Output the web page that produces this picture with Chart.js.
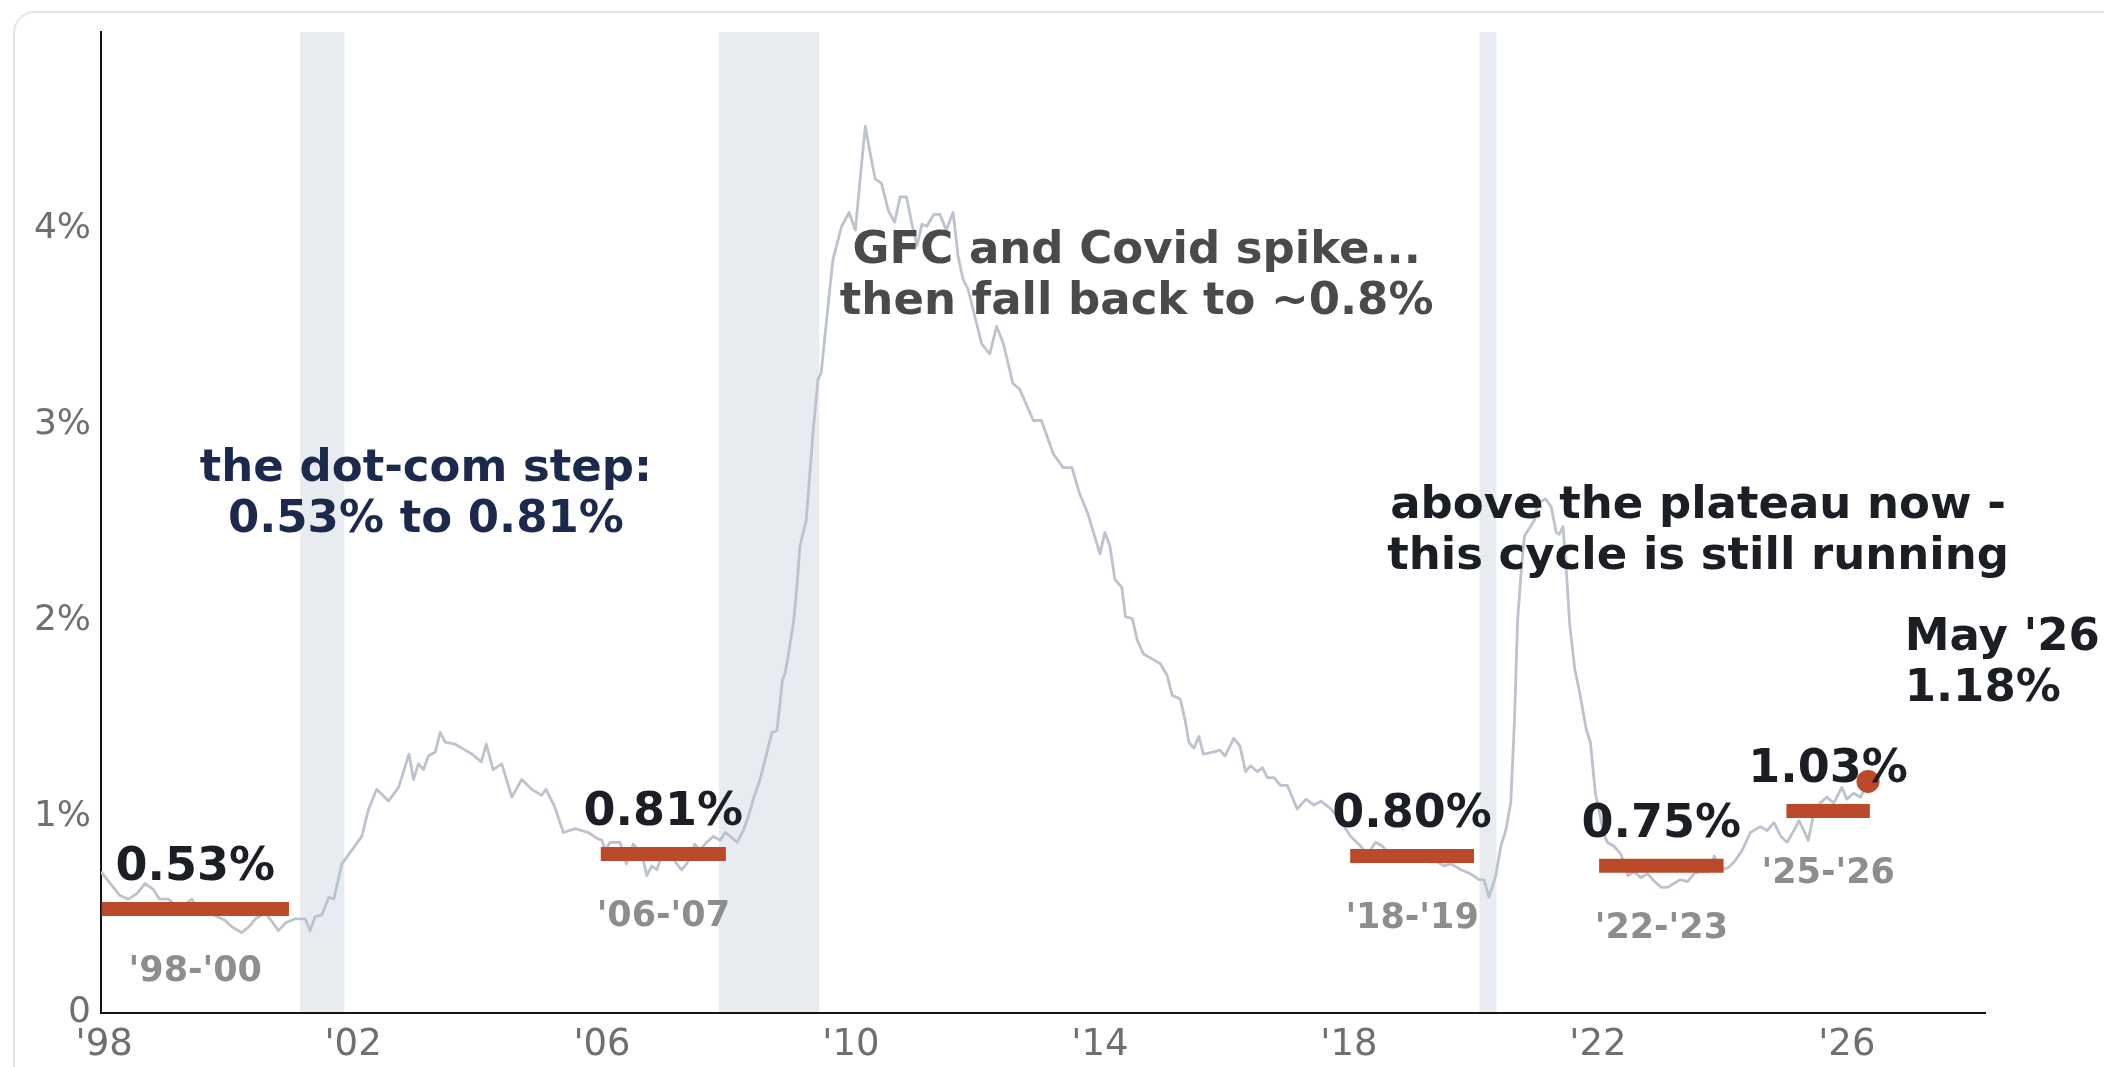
<!DOCTYPE html>
<html>
<head>
<meta charset="utf-8">
<title>Delinquency plateaus by cycle</title>
<script src="https://cdn.jsdelivr.net/npm/chart.js@4/dist/chart.umd.min.js"></script>
<style>
  html, body { margin: 0; padding: 0; background: #ffffff; }
  body { width: 2104px; height: 1067px; position: relative; overflow: hidden; }
  .card {
    position: absolute; left: 13px; top: 11px; width: 2200px; height: 1200px;
    border: 2px solid #e2e5e9; border-radius: 22px; background: #ffffff;
  }
  #chart { position: absolute; left: 0; top: 0; }
</style>
</head>
<body>
<div class="card"></div>
<canvas id="chart" width="2104" height="1067"></canvas>
<script>
// Monthly-ish series, positions in decimal years
const lineYears = [
  1997.95, 1998.10, 1998.25, 1998.39, 1998.53, 1998.66, 1998.79, 1998.89, 1999.03, 1999.19,
  1999.32, 1999.41, 1999.52, 1999.69, 1999.83, 1999.95, 2000.05, 2000.21, 2000.33, 2000.43,
  2000.59, 2000.71, 2000.80, 2000.92, 2001.07, 2001.23, 2001.31, 2001.39, 2001.50, 2001.61,
  2001.69, 2001.82, 2001.98, 2002.14, 2002.25, 2002.38, 2002.57, 2002.73, 2002.90, 2002.97,
  2003.05, 2003.13, 2003.21, 2003.32, 2003.40, 2003.48, 2003.64, 2003.80, 2003.91, 2004.06,
  2004.14, 2004.25, 2004.39, 2004.55, 2004.71, 2004.87, 2005.03, 2005.10, 2005.24, 2005.38,
  2005.57, 2005.78, 2005.92, 2006.00, 2006.05, 2006.13, 2006.29, 2006.39, 2006.50, 2006.64,
  2006.72, 2006.80, 2006.88, 2006.96, 2007.10, 2007.20, 2007.28, 2007.36, 2007.49, 2007.57,
  2007.68, 2007.79, 2007.90, 2007.98, 2008.06, 2008.17, 2008.27, 2008.35, 2008.43, 2008.54,
  2008.62, 2008.73, 2008.81, 2008.86, 2008.90, 2008.94, 2008.99, 2009.08, 2009.13, 2009.18,
  2009.24, 2009.28, 2009.39, 2009.47, 2009.52, 2009.63, 2009.71, 2009.85, 2009.97, 2010.07,
  2010.15, 2010.23, 2010.31, 2010.39, 2010.49, 2010.60, 2010.70, 2010.79, 2010.89, 2010.98,
  2011.06, 2011.14, 2011.22, 2011.33, 2011.43, 2011.53, 2011.64, 2011.72, 2011.80, 2011.88,
  2011.99, 2012.10, 2012.23, 2012.34, 2012.45, 2012.60, 2012.71, 2012.93, 2013.06, 2013.25,
  2013.41, 2013.55, 2013.67, 2013.80, 2014.00, 2014.08, 2014.16, 2014.24, 2014.35, 2014.41,
  2014.52, 2014.60, 2014.70, 2014.81, 2014.97, 2015.08, 2015.16, 2015.29, 2015.37, 2015.43,
  2015.51, 2015.59, 2015.66, 2015.82, 2015.93, 2016.01, 2016.15, 2016.25, 2016.34, 2016.42,
  2016.53, 2016.61, 2016.69, 2016.80, 2016.90, 2017.01, 2017.09, 2017.17, 2017.31, 2017.44,
  2017.55, 2017.71, 2017.86, 2018.03, 2018.19, 2018.30, 2018.43, 2018.54, 2018.67, 2018.84,
  2018.99, 2019.15, 2019.31, 2019.42, 2019.53, 2019.64, 2019.80, 2019.95, 2020.09, 2020.17,
  2020.25, 2020.36, 2020.44, 2020.52, 2020.60, 2020.66, 2020.71, 2020.77, 2020.82, 2020.88,
  2020.98, 2021.03, 2021.16, 2021.25, 2021.33, 2021.38, 2021.44, 2021.50, 2021.55, 2021.63,
  2021.71, 2021.81, 2021.88, 2021.96, 2022.09, 2022.15, 2022.26, 2022.37, 2022.48, 2022.58,
  2022.69, 2022.80, 2022.91, 2023.02, 2023.12, 2023.22, 2023.33, 2023.44, 2023.55, 2023.65,
  2023.79, 2023.87, 2023.98, 2024.09, 2024.19, 2024.32, 2024.45, 2024.61, 2024.72, 2024.83,
  2024.94, 2025.04, 2025.15, 2025.23, 2025.31, 2025.38, 2025.47, 2025.57, 2025.68, 2025.79,
  2025.92, 2026.00, 2026.11, 2026.22, 2026.34
];
const lineValues = [
  0.72, 0.66, 0.60, 0.58, 0.61, 0.66, 0.63, 0.58, 0.58, 0.54,
  0.56, 0.58, 0.53, 0.51, 0.49, 0.47, 0.44, 0.41, 0.44, 0.48,
  0.51, 0.46, 0.42, 0.46, 0.48, 0.48, 0.42, 0.49, 0.50, 0.59,
  0.58, 0.76, 0.83, 0.90, 1.04, 1.14, 1.08, 1.15, 1.32, 1.19,
  1.27, 1.24, 1.31, 1.33, 1.43, 1.38, 1.37, 1.34, 1.32, 1.28,
  1.37, 1.24, 1.27, 1.10, 1.19, 1.14, 1.11, 1.14, 1.05, 0.92,
  0.94, 0.92, 0.89, 0.88, 0.83, 0.87, 0.87, 0.76, 0.86, 0.81,
  0.70, 0.75, 0.73, 0.80, 0.81, 0.76, 0.73, 0.76, 0.86, 0.83,
  0.87, 0.90, 0.88, 0.92, 0.90, 0.87, 0.93, 1.00, 1.09, 1.19,
  1.29, 1.43, 1.44, 1.58, 1.70, 1.73, 1.82, 2.00, 2.17, 2.38,
  2.46, 2.51, 2.96, 3.23, 3.26, 3.60, 3.84, 4.01, 4.08, 3.99,
  4.26, 4.52, 4.38, 4.25, 4.23, 4.09, 4.03, 4.16, 4.16, 4.02,
  3.91, 4.02, 4.01, 4.07, 4.07, 3.99, 4.08, 3.86, 3.74, 3.69,
  3.55, 3.41, 3.36, 3.50, 3.41, 3.21, 3.18, 3.02, 3.02, 2.85,
  2.78, 2.78, 2.65, 2.55, 2.34, 2.45, 2.38, 2.21, 2.17, 2.02,
  2.01, 1.90, 1.83, 1.81, 1.78, 1.72, 1.62, 1.60, 1.49, 1.38,
  1.35, 1.41, 1.32, 1.33, 1.34, 1.31, 1.40, 1.36, 1.23, 1.26,
  1.23, 1.25, 1.20, 1.20, 1.16, 1.16, 1.10, 1.04, 1.09, 1.06,
  1.08, 1.04, 0.98, 0.90, 0.85, 0.81, 0.87, 0.85, 0.80, 0.78,
  0.79, 0.78, 0.77, 0.77, 0.75, 0.76, 0.73, 0.71, 0.68, 0.68,
  0.59, 0.70, 0.85, 0.93, 1.07, 1.49, 2.00, 2.26, 2.43, 2.46,
  2.51, 2.60, 2.62, 2.58, 2.45, 2.44, 2.48, 2.22, 1.97, 1.75,
  1.63, 1.45, 1.38, 1.12, 0.92, 0.87, 0.85, 0.81, 0.70, 0.72,
  0.69, 0.71, 0.67, 0.64, 0.64, 0.66, 0.68, 0.67, 0.71, 0.72,
  0.72, 0.80, 0.73, 0.74, 0.77, 0.83, 0.92, 0.95, 0.93, 0.97,
  0.90, 0.87, 0.93, 0.98, 0.93, 0.88, 1.02, 1.07, 1.10, 1.07,
  1.15, 1.09, 1.12, 1.10, 1.18
];

// Plateau periods and their average rate
const periodLabels = ["'98-'00", "'06-'07", "'18-'19", "'22-'23", "'25-'26"];
const periodStart  = [1997.96, 2005.98, 2018.02, 2022.02, 2025.03];
const periodEnd    = [2000.97, 2007.99, 2020.01, 2024.02, 2026.37];
const periodAvg    = [0.53, 0.81, 0.80, 0.75, 1.03];

// Recession bands
const recessionStart = [2001.15, 2007.88, 2020.10];
const recessionEnd   = [2001.86, 2009.49, 2020.37];

// Latest reading
const latestLabel = "May '26";
const latestX = 2026.34;
const latestValue = 1.18;

// Axis ticks
const xTickValues = [1998, 2002, 2006, 2010, 2014, 2018, 2022, 2026];
const yTickValues = [0, 1, 2, 3, 4];

// Annotation texts with their anchor point (x in years, y in % for first baseline)
const notes = [
  { lines: ['the dot-com step:', '0.53% to 0.81%'], x: 2003.17, y: 2.711, align: 'center', color: '#1b2a4c' },
  { lines: ['GFC and Covid spike...', 'then fall back to ~0.8%'], x: 2014.59, y: 3.823, align: 'center', color: '#4a4a4a' },
  { lines: ['above the plateau now -', 'this cycle is still running'], x: 2023.61, y: 2.523, align: 'center', color: '#1b1e25' },
  { lines: [latestLabel, latestValue.toFixed(2) + '%'], x: 2026.93, y: 1.850, align: 'left', color: '#1b1e25' }
];

const FONT = '"DejaVu Sans", "Liberation Sans", sans-serif';
const ORANGE = '#bb4a2b';
const LINE_GRAY = '#bcc3ce';
const BAND_FILL = '#e8ebef';

const overlay = {
  id: 'overlay',
  beforeDraw(chart) {
    const { ctx, chartArea: a, scales: { x } } = chart;
    ctx.save();
    ctx.fillStyle = BAND_FILL;
    recessionStart.forEach((s, i) => {
      const x0 = x.getPixelForValue(s);
      const x1 = x.getPixelForValue(recessionEnd[i]);
      ctx.fillRect(x0, a.top, x1 - x0, a.bottom - a.top);
    });
    ctx.restore();
  },
  afterDatasetsDraw(chart) {
    const { ctx, scales: { x, y } } = chart;
    ctx.save();
    ctx.textBaseline = 'alphabetic';

    // value above, period below each plateau bar
    periodAvg.forEach((v, i) => {
      const cx = x.getPixelForValue((periodStart[i] + periodEnd[i]) / 2);
      const py = y.getPixelForValue(v);
      ctx.textAlign = 'center';
      ctx.font = 'bold 46px ' + FONT;
      ctx.fillStyle = '#1b1e25';
      ctx.fillText(v.toFixed(2) + '%', cx, py - 29);
      ctx.font = 'bold 35px ' + FONT;
      ctx.fillStyle = '#8d8d8d';
      ctx.fillText(periodLabels[i], cx, py + 72);
    });

    // annotations
    ctx.font = 'bold 45px ' + FONT;
    notes.forEach(n => {
      const px = x.getPixelForValue(n.x);
      const py = y.getPixelForValue(n.y);
      ctx.textAlign = n.align;
      ctx.fillStyle = n.color;
      n.lines.forEach((t, k) => ctx.fillText(t, px, py + k * 51));
    });
    ctx.restore();
  }
};

const datasets = [
  {
    label: 'latest',
    data: [{ x: latestX, y: latestValue }],
    showLine: false,
    pointRadius: 11.5,
    pointBackgroundColor: ORANGE,
    pointBorderWidth: 0,
    order: 1
  },
  ...periodAvg.map((v, i) => ({
    label: periodLabels[i],
    data: [{ x: periodStart[i], y: v }, { x: periodEnd[i], y: v }],
    borderColor: ORANGE,
    borderWidth: 14,
    borderCapStyle: 'butt',
    pointRadius: 0,
    order: 2
  })),
  {
    label: 'rate',
    data: lineYears.map((yr, i) => ({ x: yr, y: lineValues[i] })),
    borderColor: LINE_GRAY,
    borderWidth: 2.8,
    pointRadius: 0,
    tension: 0,
    borderJoinStyle: 'round',
    order: 3
  }
];

new Chart(document.getElementById('chart'), {
  type: 'line',
  data: { datasets },
  options: {
    responsive: false,
    devicePixelRatio: 1,
    animation: false,
    layout: { padding: { top: 32, right: 119, bottom: 0, left: 0 } },
    plugins: { legend: { display: false }, tooltip: { enabled: false } },
    scales: {
      x: {
        type: 'linear',
        min: 1997.95,
        max: 2028.22,
        afterBuildTicks: s => { s.ticks = xTickValues.map(v => ({ value: v })); },
        afterFit: s => { s.height = 54; },
        grid: { display: false, drawTicks: false },
        border: { display: true, color: '#151515', width: 2 },
        ticks: {
          autoSkip: false,
          maxRotation: 0,
          padding: 10,
          color: '#6f6f6f',
          font: { family: FONT, size: 37 },
          callback: v => "'" + String(v).slice(2)
        }
      },
      y: {
        min: 0,
        max: 5,
        afterBuildTicks: s => { s.ticks = yTickValues.map(v => ({ value: v })); },
        afterFit: s => { s.width = 101; },
        grid: { display: false, drawTicks: false },
        border: { display: true, color: '#151515', width: 2 },
        ticks: {
          padding: 10,
          color: '#6f6f6f',
          font: { family: FONT, size: 36 },
          callback: v => (v === 0 ? '0' : v + '%')
        }
      }
    }
  },
  plugins: [overlay]
});
</script>
</body>
</html>
